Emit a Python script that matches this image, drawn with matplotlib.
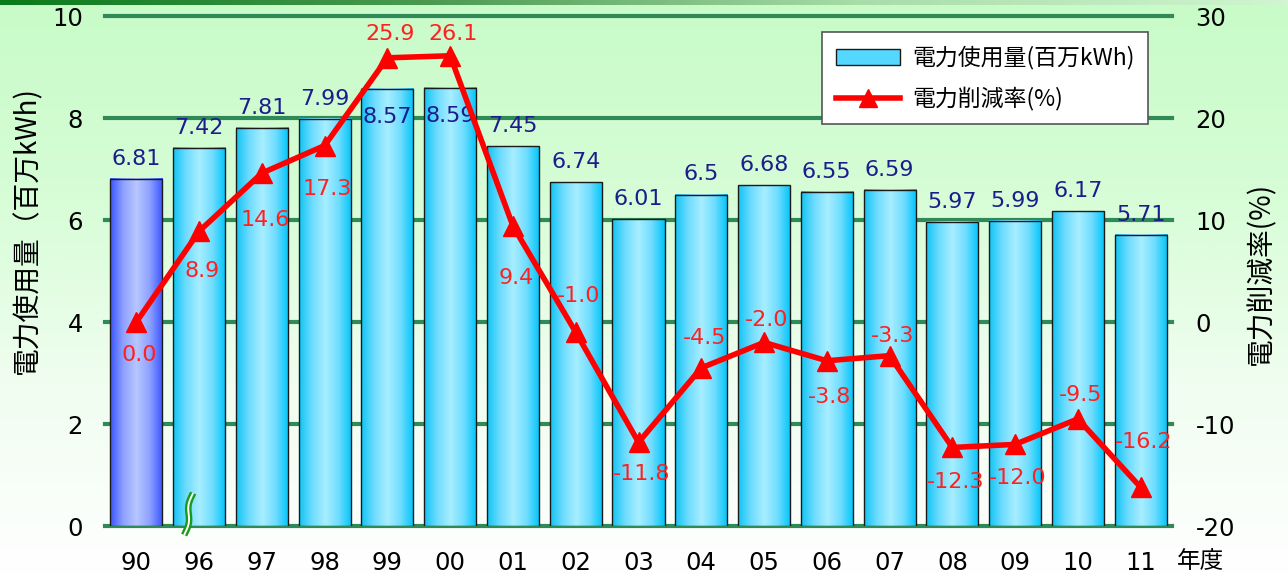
import numpy as np
import matplotlib
matplotlib.use("Agg")
import matplotlib.pyplot as plt
from matplotlib.colors import LinearSegmentedColormap
from matplotlib.patches import Rectangle
from matplotlib.lines import Line2D

plt.rcParams['font.family'] = ['DejaVu Sans', 'Noto Sans CJK JP']
CJK = ['Noto Sans CJK JP', 'DejaVu Sans']

# ---- data ----
years = ["90", "96", "97", "98", "99", "00", "01", "02", "03", "04",
         "05", "06", "07", "08", "09", "10", "11"]
usage = [6.81, 7.42, 7.81, 7.99, 8.57, 8.59, 7.45, 6.74, 6.01, 6.5,
         6.68, 6.55, 6.59, 5.97, 5.99, 6.17, 5.71]
reduction = [0.0, 8.9, 14.6, 17.3, 25.9, 26.1, 9.4, -1.0, -11.8, -4.5,
             -2.0, -3.8, -3.3, -12.3, -12.0, -9.5, -16.2]
usage_text = ["6.81", "7.42", "7.81", "7.99", "8.57", "8.59", "7.45", "6.74", "6.01", "6.5",
              "6.68", "6.55", "6.59", "5.97", "5.99", "6.17", "5.71"]
left_ticks = [0, 2, 4, 6, 8, 10]
right_ticks = [-20, -10, 0, 10, 20, 30]

# label placement (pixels, + = up)
usage_label_dy = [20, 20, 20, 20, -28, -28, 20, 20, 20, 20, 20, 20, 20, 20, 20, 20, 20]
reduction_label_dy = [-33, -40, -47, -43, 24, 22, -52, 36, -32, 30, 22, -36, 20, -35, -34, 24, 45]

W, H = 1288, 575
PX = 72 / 100
fig = plt.figure(figsize=(W / 100, H / 100), dpi=100)

# background gradient
bg = fig.add_axes([0, 0, 1, 1], zorder=-10)
bg.axis('off')
grad = np.linspace(0, 1, 256).reshape(-1, 1)
bg_cmap = LinearSegmentedColormap.from_list('bg', ['#ffffff', '#f0fdf0', '#d6fdd6', '#c8fbc8'])
bg.imshow(grad, aspect='auto', cmap=bg_cmap, extent=[0, 1, 0, 1], origin='lower')
stripe = np.linspace(0, 1, 256).reshape(1, -1)
st_cmap = LinearSegmentedColormap.from_list('st', ['#0a7a1a', '#4a9a50', '#a8dca8', '#d0f5d0'])
bg.imshow(stripe, aspect='auto', cmap=st_cmap, extent=[0, 1, 1 - 5 / H, 1])
bg.set_xlim(0, 1)
bg.set_ylim(0, 1)

ax = fig.add_axes([105 / W, 1 - 526 / H, (1172 - 105) / W, (526 - 16) / H])
ax.patch.set_alpha(0)
n = len(years)
x = np.arange(n)

for g in left_ticks:
    ax.axhline(g, color='#2f8a57', lw=3, zorder=1, clip_on=False)

cyan = LinearSegmentedColormap.from_list('cy', ['#10c4f4', '#6fdcff', '#a8eeff', '#70ddff', '#00c4fa'])
blue = LinearSegmentedColormap.from_list('bl', ['#3a55ff', '#8ea2ff', '#b8c6ff', '#8ea2ff', '#3a55ff'])
hgrad = np.linspace(0, 1, 128).reshape(1, -1)
bw = 0.83
for i, v in enumerate(usage):
    cm = blue if i == 0 else cyan
    ax.imshow(hgrad, cmap=cm, aspect='auto', extent=[i - bw / 2, i + bw / 2, 0, v], zorder=2)
    ax.add_patch(Rectangle((i - bw / 2, 0), bw, v, fill=False, ec='#1a1a1a', lw=1.0, zorder=3))
ax.set_xlim(-0.5, n - 0.5)
ax.set_ylim(0, 10)

for i, v in enumerate(usage):
    ax.annotate(usage_text[i], (i, v), xytext=(0, usage_label_dy[i] * PX), textcoords='offset points',
                ha='center', va='center', color='#1c1c8c', fontsize=16, zorder=6)

# break mark on second bar
t = np.linspace(0, 1, 60)
xs_px = 187.5 - 4.5 * np.cos(np.pi * t) + 3.0 * np.sin(2 * np.pi * t)
ys_px = 535 - t * 42
ux = 1 / 62.76
uy = 10 / 510
bx = (xs_px - 198) * ux + 1
by = (526 - ys_px) * uy
ax.plot(bx, by, color='#1a9a1a', lw=4.8, zorder=4, clip_on=False, solid_capstyle='butt')
ax.plot(bx, by, color='white', lw=1.4, zorder=4.1, clip_on=False, solid_capstyle='butt')

ax.set_xticks(x)
ax.set_xticklabels(years, fontsize=17.5)
ax.set_yticks(left_ticks)
ax.set_yticklabels([str(t) for t in left_ticks], fontsize=17.5)
ax.tick_params(length=0, pad=16)
ax.tick_params(axis='x', pad=18)
for s in ax.spines.values():
    s.set_visible(False)

ax2 = ax.twinx()
ax2.set_ylim(-20, 30)
ax2.plot(x, reduction, color='#ff0000', lw=4, marker='^', markersize=15, zorder=5)
for i, v in enumerate(reduction):
    ax2.annotate(f"{v:.1f}", (i, v), xytext=(3 * PX, reduction_label_dy[i] * PX), textcoords='offset points',
                 ha='center', va='center', color='#ff2020', fontsize=16, zorder=6)
ax2.set_yticks(right_ticks)
ax2.set_yticklabels([str(t) for t in right_ticks], fontsize=17.5)
ax2.tick_params(length=0, pad=17)
for s in ax2.spines.values():
    s.set_visible(False)

fig.text(27 / W, 1 - 230 / H, "電力使用量（百万kWh)", rotation=90, ha='center', va='center',
         fontsize=20, family=CJK)
fig.text(1261 / W, 1 - 273 / H, "電力削減率(%)", rotation=90, ha='center', va='center',
         fontsize=20, family=CJK)
fig.text(1200 / W, 1 - 562 / H, "年度", ha='center', va='center', fontsize=17, family=CJK)

h1 = Rectangle((0, 0), 1, 1, fc='#55d8ff', ec='#1a1a1a', lw=1)
h2 = Line2D([], [], color='#ff0000', lw=4, marker='^', markersize=13)
leg = ax2.legend([h1, h2], ["電力使用量(百万kWh)", "電力削減率(%)"], loc='upper right',
                 bbox_to_anchor=(1148 / W, 1 - 32 / H), bbox_transform=fig.transFigure,
                 prop={'family': CJK, 'size': 16.5}, frameon=True, fancybox=False,
                 edgecolor='#555555', framealpha=1, handlelength=2.8, borderpad=0.6,
                 labelspacing=0.75, handletextpad=0.5, borderaxespad=0)
leg.get_frame().set_linewidth(1.2)

fig.savefig("out.png", dpi=100)
